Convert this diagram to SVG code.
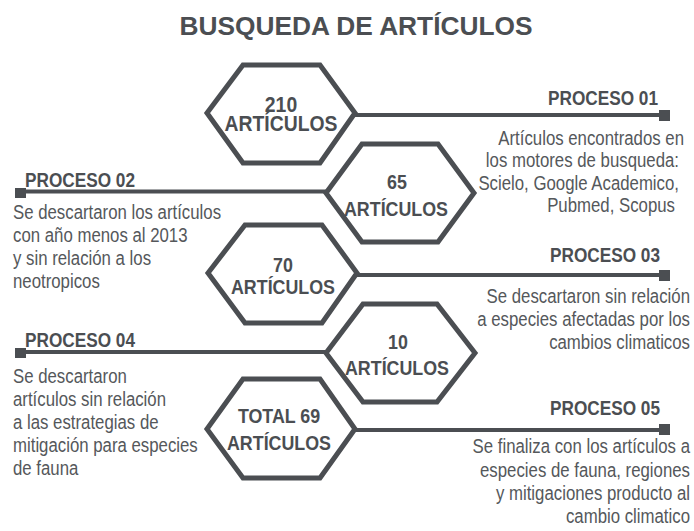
<svg xmlns="http://www.w3.org/2000/svg" width="694" height="531" viewBox="0 0 694 531">
<defs>
<style>
.hex{fill:none;stroke:#4b4e52;stroke-width:5;stroke-linejoin:miter}
.ln{stroke:#4b4e52;stroke-width:4;fill:none}
.sq{fill:#4b4e52}
.title{font-family:"Liberation Sans",Arial,sans-serif;font-weight:bold;font-size:26.3px;fill:#4b4e52;text-anchor:middle}
.hx{font-family:"Liberation Sans",Arial,sans-serif;font-weight:bold;font-size:21px;fill:#4b4e52;text-anchor:middle}
.pr{font-family:"Liberation Sans",Arial,sans-serif;font-weight:bold;font-size:21px;fill:#4b4e52}
.bd{font-family:"Liberation Sans",Arial,sans-serif;font-size:21px;fill:#55585b}
.r{text-anchor:end}
</style>
</defs>
<rect width="694" height="531" fill="#ffffff"/>
<text class="title" x="356" y="35">BUSQUEDA DE ARTÍCULOS</text>

<g id="connectors">
<line class="ln" x1="355" y1="115" x2="662" y2="115"/>
<rect class="sq" x="659" y="110" width="11" height="11"/>
<line class="ln" x1="20" y1="191.5" x2="326" y2="191.5"/>
<rect class="sq" x="15" y="188" width="11" height="10"/>
<line class="ln" x1="357" y1="275" x2="662" y2="275"/>
<rect class="sq" x="659" y="270" width="11" height="11"/>
<line class="ln" x1="20" y1="352" x2="326" y2="352"/>
<rect class="sq" x="15" y="348" width="11" height="10"/>
<line class="ln" x1="355" y1="430" x2="662" y2="430"/>
<rect class="sq" x="659" y="424" width="11" height="11"/>
</g>

<g id="hex1">
<polygon class="hex" points="207,113 243,65 320,65 355,113 320,163 243,163"/>
<text class="hx" transform="translate(281,112) scale(0.88,1)" style="font-size:22px">210</text>
<text class="hx" transform="translate(281,131) scale(0.88,1)" style="font-size:22px">ARTÍCULOS</text>
</g>
<g id="hex2">
<polygon class="hex" points="326,193 362,144 438,144 474,193 438,242 362,242"/>
<text class="hx" transform="translate(397,189) scale(0.85,1)">65</text>
<text class="hx" transform="translate(396,216) scale(0.85,1)">ARTÍCULOS</text>
</g>
<g id="hex3">
<polygon class="hex" points="208,273 245,225 322,225 357,273 322,323 245,323"/>
<text class="hx" transform="translate(283,272) scale(0.85,1)">70</text>
<text class="hx" transform="translate(283,294) scale(0.85,1)">ARTÍCULOS</text>
</g>
<g id="hex4">
<polygon class="hex" points="326,353 363,304 437,304 475,353 437,402 363,402"/>
<text class="hx" transform="translate(398,349) scale(0.85,1)">10</text>
<text class="hx" transform="translate(397,375) scale(0.85,1)">ARTÍCULOS</text>
</g>
<g id="hex5">
<polygon class="hex" points="207,429 243,379 320,379 355,429 320,478 243,478"/>
<text class="hx" transform="translate(279,423) scale(0.85,1)">TOTAL 69</text>
<text class="hx" transform="translate(279,450) scale(0.85,1)">ARTÍCULOS</text>
</g>

<g id="proceso01">
<text class="pr r" transform="translate(658,105) scale(0.82,1)">PROCESO 01</text>
<text class="bd r" transform="translate(684,145) scale(0.8,1)">Artículos encontrados en</text>
<text class="bd r" transform="translate(679,167) scale(0.8,1)">los motores de busqueda:</text>
<text class="bd r" transform="translate(679,190) scale(0.8,1)">Scielo, Google Academico,</text>
<text class="bd r" transform="translate(675,212) scale(0.8,1)">Pubmed, Scopus</text>
</g>
<g id="proceso02">
<text class="pr" transform="translate(25,187) scale(0.82,1)">PROCESO 02</text>
<text class="bd" transform="translate(13,219) scale(0.8,1)">Se descartaron los artículos</text>
<text class="bd" transform="translate(13,242) scale(0.8,1)">con año menos al 2013</text>
<text class="bd" transform="translate(13,265) scale(0.8,1)">y sin relación a los</text>
<text class="bd" transform="translate(13,288) scale(0.8,1)">neotropicos</text>
</g>
<g id="proceso03">
<text class="pr r" transform="translate(660,262) scale(0.82,1)">PROCESO 03</text>
<text class="bd r" transform="translate(690,303) scale(0.8,1)">Se descartaron sin relación</text>
<text class="bd r" transform="translate(690,326) scale(0.8,1)">a especies afectadas por los</text>
<text class="bd r" transform="translate(690,349) scale(0.8,1)">cambios climaticos</text>
</g>
<g id="proceso04">
<text class="pr" transform="translate(25,347) scale(0.82,1)">PROCESO 04</text>
<text class="bd" transform="translate(13,383) scale(0.8,1)">Se descartaron</text>
<text class="bd" transform="translate(13,406) scale(0.8,1)">artículos sin relación</text>
<text class="bd" transform="translate(13,429) scale(0.8,1)">a las estrategias de</text>
<text class="bd" transform="translate(13,452) scale(0.8,1)">mitigación para especies</text>
<text class="bd" transform="translate(13,475) scale(0.8,1)">de fauna</text>
</g>
<g id="proceso05">
<text class="pr r" transform="translate(660,415) scale(0.82,1)">PROCESO 05</text>
<text class="bd r" transform="translate(690,453) scale(0.8,1)">Se finaliza con los artículos a</text>
<text class="bd r" transform="translate(690,477) scale(0.8,1)">especies de fauna, regiones</text>
<text class="bd r" transform="translate(690,500) scale(0.8,1)">y  mitigaciones producto al</text>
<text class="bd r" transform="translate(690,523) scale(0.8,1)">cambio climatico</text>
</g>
</svg>
